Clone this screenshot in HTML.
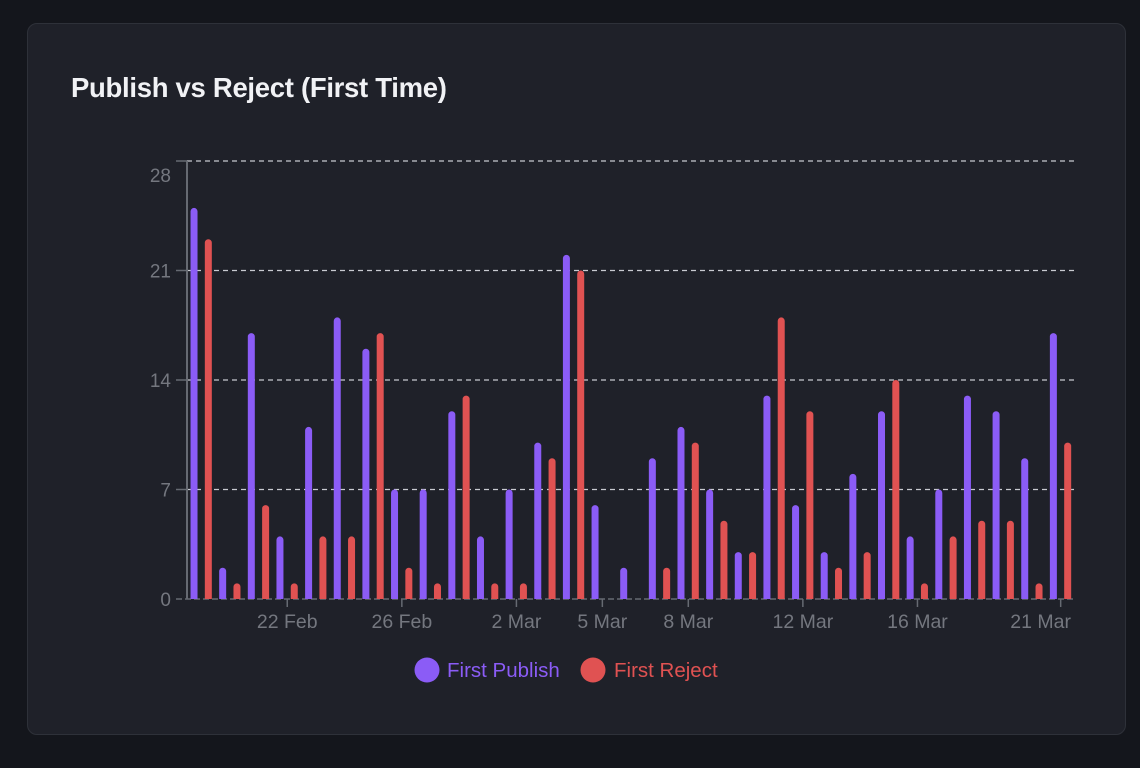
<!DOCTYPE html>
<html><head><meta charset="utf-8"><style>
html,body{margin:0;padding:0;background:#14161c;width:1140px;height:768px;overflow:hidden;font-family:"Liberation Sans",sans-serif}
.card{position:absolute;left:27px;top:23px;width:1099px;height:712px;background:#1f2129;border:1px solid #2e3139;border-radius:10px;box-sizing:border-box}
.title{position:absolute;left:71px;top:72px;color:#f1f2f5;font-size:27.5px;font-weight:bold;letter-spacing:-0.3px}
svg{position:absolute;left:0;top:0}
</style></head><body>
<div class="card"></div>
<div class="title">Publish vs Reject (First Time)</div>
<svg id="s" width="1140" height="768" xmlns="http://www.w3.org/2000/svg" font-family="Liberation Sans, sans-serif"></svg>
<script>
var P=[25,2,17,4,11,18,16,7,7,12,4,7,10,22,6,2,9,11,7,3,13,6,3,8,12,4,7,13,12,9,17];
var R=[23,1,6,1,4,4,17,2,1,13,1,1,9,21,0,0,2,10,5,3,18,12,2,3,14,1,4,5,5,1,10];
var s='',y0=599,u=438/28,x0=187,g=888/31;
[7,14,21,28].forEach(function(v){var y=y0-v*u;s+='<line x1="187" x2="1075" y1="'+y+'" y2="'+y+'" stroke="#c8cad0" stroke-width="1.3" stroke-dasharray="5,4"/>';
s+='<line x1="176" x2="187" y1="'+y+'" y2="'+y+'" stroke="#666a72" stroke-width="1.5"/>';});
[0,7,14,21,28].forEach(function(v){var y=y0-v*u;if(v==28)y=175;s+='<text x="171" y="'+(y+7)+'" text-anchor="end" font-size="19" fill="#74777f">'+v+'</text>';});
s+='<line x1="187" x2="187" y1="161" y2="599" stroke="#666a72" stroke-width="2"/>';
s+='<line x1="176" x2="1075" y1="599" y2="599" stroke="#666a72" stroke-width="1.5" stroke-dasharray="6,3"/>';
function bar(x,v,c){if(!v)return '';var h=v*u,w=7;return '<path d="M'+(x-w/2)+' '+y0+'V'+(y0-h+3.5)+'a3.5 3.5 0 0 1 7 0V'+y0+'Z" fill="'+c+'"/>';}
for(var i=0;i<31;i++){var c=x0+g*(i+0.5);s+=bar(c-7.3,P[i],'#8b5cf6');s+=bar(c+7,R[i],'#e05252');}
var L=[[3,'22 Feb'],[7,'26 Feb'],[11,'2 Mar'],[14,'5 Mar'],[17,'8 Mar'],[21,'12 Mar'],[25,'16 Mar'],[30,'21 Mar']];
L.forEach(function(l){var x=x0+g*(l[0]+0.5);s+='<line x1="'+x+'" x2="'+x+'" y1="599" y2="607" stroke="#666a72" stroke-width="1.5"/>';
if(l[0]==30){s+='<text x="1071" y="628" text-anchor="end" font-size="19.5" fill="#74777f">'+l[1]+'</text>';}
else s+='<text x="'+x+'" y="628" text-anchor="middle" font-size="19.5" fill="#74777f">'+l[1]+'</text>';});
s+='<circle cx="427" cy="670" r="12.5" fill="#8b5cf6"/><text x="447" y="677" font-size="20.5" fill="#8b5cf6">First Publish</text>';
s+='<circle cx="593" cy="670" r="12.5" fill="#e05252"/><text x="614" y="677" font-size="20.5" fill="#e05252">First Reject</text>';
document.getElementById('s').innerHTML=s;
</script>
</body></html>
